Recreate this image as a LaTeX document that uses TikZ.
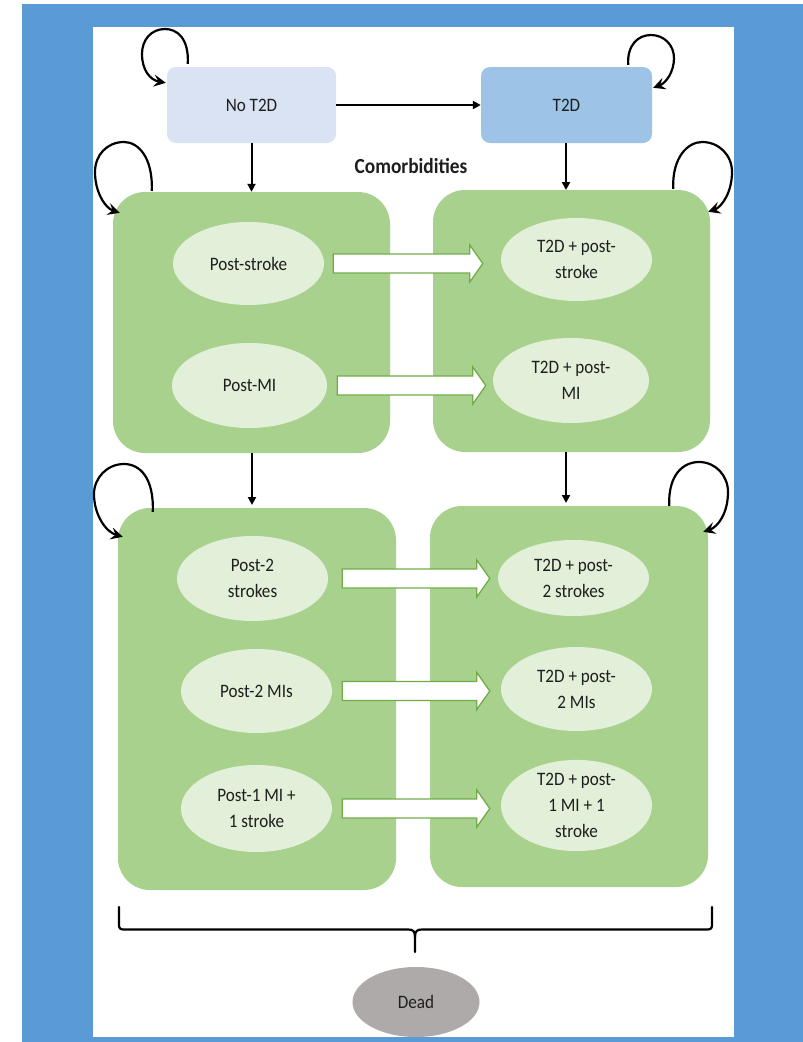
\documentclass[tikz,border=0pt]{standalone}
\usepackage{fontspec}
\setmainfont{Carlito}[FakeStretch=0.9]
\usetikzlibrary{shapes.geometric,calc,arrows.meta}
\definecolor{frameblue}{HTML}{5B9BD5}
\definecolor{notdfill}{HTML}{DAE3F3}
\definecolor{tdfill}{HTML}{9DC3E6}
\definecolor{boxgreen}{HTML}{A9D18E}
\definecolor{ellgreen}{HTML}{E2F0D9}
\definecolor{arrgreen}{HTML}{70AD47}
\definecolor{deadgrey}{HTML}{AEAAAA}
\definecolor{textcol}{HTML}{1E1E1E}
\newcommand\blockarrow[4]{%
 \draw[blockarr] let \p1=($(#1.east)+(#3,0)$), \p2=($(#2.west)+(-#4,0)$) in
 (\x1,\y1+9.5pt) -- (\x2-13pt,\y1+9.5pt) -- (\x2-13pt,\y1+18.5pt) -- (\x2,\y1)
 -- (\x2-13pt,\y1-18.5pt) -- (\x2-13pt,\y1-9.5pt) -- (\x1,\y1-9.5pt) -- cycle;}
\begin{document}
\begin{tikzpicture}[x=1pt,y=-1pt,
  txt/.style={font=\fontsize{19}{26}\selectfont, text=textcol, align=center},
  topbox/.style={rectangle, rounded corners=9pt, inner sep=0pt, txt},
  greenbox/.style={rectangle, rounded corners=32pt, fill=boxgreen, inner sep=0pt},
  comorb/.style={ellipse, fill=ellgreen, inner sep=0pt, txt},
  flow/.style={-{Triangle[length=8pt,width=8pt]}, line width=2pt},
  selfloop/.style={-{Stealth[length=12pt,width=12pt,inset=4.5pt]}, line width=2.2pt},
  blockarr/.style={fill=white, draw=arrgreen, line width=1.3pt, line join=miter}]
\useasboundingbox (0,0) rectangle (803,1042);
\fill[white] (0,0) rectangle (803,1042);
\fill[frameblue] (22,4) rectangle (803,1042);
\fill[white] (93,27) rectangle (734,1037);

% top state boxes
\node[topbox, fill=notdfill, minimum width=169pt, minimum height=76pt] (notd) at (251.5,105) {No T2D};
\node[topbox, fill=tdfill, minimum width=171pt, minimum height=76pt] (td) at (566.5,105) {T2D};
\node[font=\bfseries\fontsize{21.5}{24}\selectfont, text=textcol] (comorbt) at (411,166) {Comorbidities};

% green group boxes
\node[greenbox, minimum width=277pt, minimum height=261pt] (g1) at (251.5,322.5) {};
\node[greenbox, minimum width=277pt, minimum height=262pt] (g2) at (571.5,321) {};
\node[greenbox, minimum width=278pt, minimum height=382pt] (g3) at (257,699) {};
\node[greenbox, minimum width=278pt, minimum height=381pt] (g4) at (569,696.5) {};

% comorbidity states
\node[comorb, minimum width=151pt, minimum height=83pt] (e1) at (248.5,263.5) {Post-stroke};
\node[comorb, minimum width=155pt, minimum height=85pt] (e2) at (249.5,385.5) {Post-MI};
\node[comorb, minimum width=151pt, minimum height=83pt] (e3) at (576.5,259.5) {T2D + post-\\stroke};
\node[comorb, minimum width=156pt, minimum height=85pt] (e4) at (571,380.5) {T2D + post-\\MI};
\node[comorb, minimum width=151pt, minimum height=85pt] (e5) at (252.5,578.5) {Post-2\\strokes};
\node[comorb, minimum width=151pt, minimum height=84pt] (e6) at (256.5,691) {Post-2 MIs};
\node[comorb, minimum width=151pt, minimum height=87pt] (e7) at (256.5,808.5) {Post-1 MI +\\1 stroke};
\node[comorb, minimum width=151pt, minimum height=76pt] (e8) at (573.5,578) {T2D + post-\\2 strokes};
\node[comorb, minimum width=151pt, minimum height=84pt] (e9) at (576.5,689) {T2D + post-\\2 MIs};
\node[comorb, minimum width=151pt, minimum height=85pt] (e10) at (576.5,805.5) {T2D + post-\\1 MI + 1\\stroke};

% dead
\node[ellipse, fill=deadgrey, inner sep=0pt, minimum width=127pt, minimum height=70pt, txt] (dead) at (416,1002) {Dead};

% straight flows
\draw[flow] (notd.east) -- (td.west);
\draw[flow] (notd.south) -- (notd.south |- g1.north);
\draw[flow] (td.south -| 566,0) -- (566,190);
\draw[flow] (g1.south -| 252,0) -- (252,505);
\draw[flow] (g2.south -| 566,0) -- (566,503);

% block arrows
\blockarrow{e1}{e3}{9}{18}
\blockarrow{e2}{e4}{10}{7}
\blockarrow{e5}{e8}{14}{8}
\blockarrow{e6}{e9}{10}{11}
\blockarrow{e7}{e10}{10}{11}

% self loops
\draw[selfloop] ($(notd.north west)+(21,-3)$) .. controls (189,38) and (177,29) .. (165,29)
  .. controls (151,29) and (142,40) .. (142,54) .. controls (142,70) and (150,80) .. ($(notd.north west)+(-1,16)$);
\draw[selfloop] ($(td.north east)+(-24,-2)$) .. controls (627,45) and (638,35) .. (651,35)
  .. controls (664,35) and (674,45) .. (674,58) .. controls (674,72) and (666,83) .. ($(td.north east)+(1,21)$);
\draw[selfloop] ($(g1.north west)+(39,-1)$) .. controls (153,157) and (138,142) .. (124,142)
  .. controls (107,142) and (95,155) .. (95,172) .. controls (95,192) and (105,208) .. ($(g1.north west)+(7,21)$);
\draw[selfloop] ($(g2.north east)+(-37,-1)$) .. controls (672,157) and (688,142) .. (702,142)
  .. controls (719,142) and (732,155) .. (732,172) .. controls (732,192) and (722,207) .. ($(g2.north east)+(-2,22)$);
\draw[selfloop] ($(g3.north west)+(35,4)$) .. controls (154,478) and (140,464) .. (124,464)
  .. controls (107,464) and (94,478) .. (94,494) .. controls (94,515) and (106,532) .. ($(g3.north west)+(5,29)$);
\draw[selfloop] ($(g4.north east)+(-39,0)$) .. controls (668,475) and (683,462) .. (699,462)
  .. controls (716,462) and (728,476) .. (728,492) .. controls (728,513) and (718,527) .. ($(g4.north east)+(-5,26)$);

% brace to dead
\coordinate (bracetip) at (415,952);
\draw[line width=2.2pt, line join=round, line cap=round]
  (119,907) -- (119,925) .. controls (119,928.5) and (120.5,929.5) .. (124,929.5) -- (408,929.5)
  .. controls (413,929.5) and (415,931) .. (415,937) -- (bracetip);
\draw[line width=2.2pt, line join=round, line cap=round]
  (712,907) -- (712,925) .. controls (712,928.5) and (710.5,929.5) .. (707,929.5) -- (422,929.5)
  .. controls (417,929.5) and (415,931) .. (415,937);
\end{tikzpicture}
\end{document}
